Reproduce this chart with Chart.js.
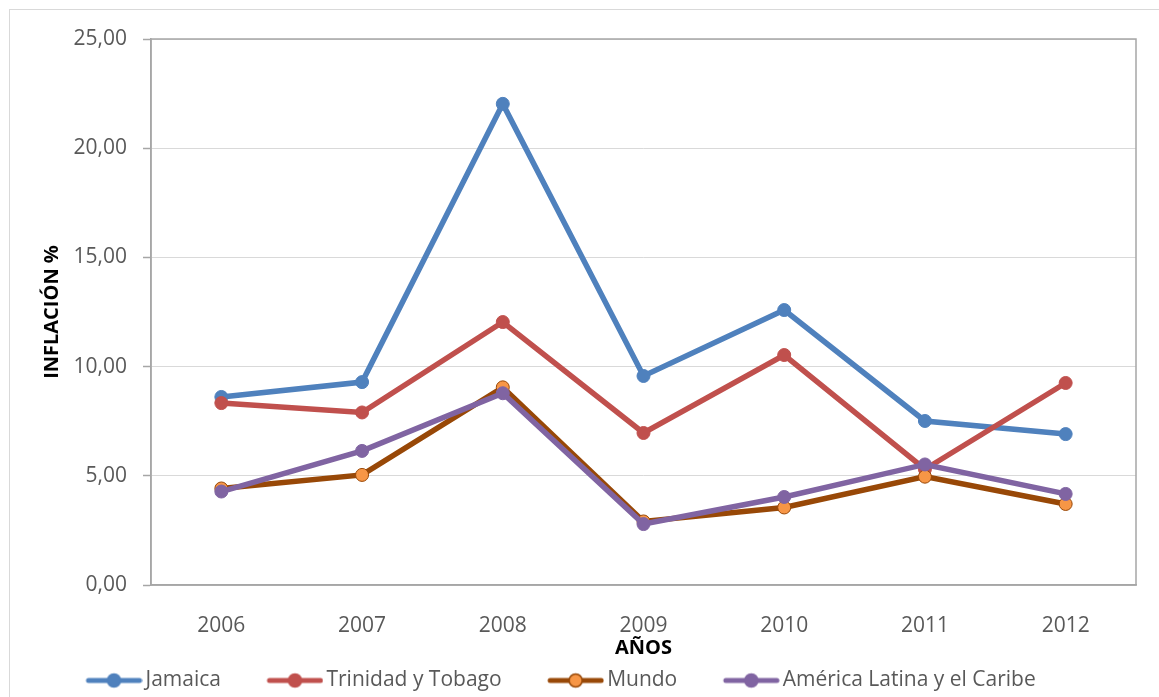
<!DOCTYPE html>
<html lang="es">
<head>
<meta charset="utf-8">
<title>Inflación</title>
<script src="https://cdn.jsdelivr.net/npm/chart.js@4.4.1/dist/chart.umd.min.js"></script>
<style>
  html, body { margin: 0; padding: 0; background: #fff; overflow: hidden; }
  .frame { position: absolute; left: 9px; top: 9px; width: 1300px; height: 800px; border: 1px solid #d9d9d9; }
  #chart { position: absolute; left: 0; top: 0; }
</style>
</head>
<body>
<div class="frame"></div>
<canvas id="chart" width="1159" height="697"></canvas>
<script>
// datos
const years = ['2006', '2007', '2008', '2009', '2010', '2011', '2012'];
const jamaica = [8.61, 9.29, 22.03, 9.57, 12.59, 7.51, 6.91];
const trinidad = [8.33, 7.90, 12.04, 6.96, 10.53, 5.30, 9.25];
const mundo = [4.42, 5.04, 9.05, 2.91, 3.55, 4.96, 3.71];
const latam = [4.28, 6.14, 8.78, 2.79, 4.03, 5.52, 4.17];
const yTicks = [0, 5, 10, 15, 20, 25];

const FONT = "'Open Sans', 'DejaVu Sans', sans-serif";
const GRAY = '#595959';
const AXIS = '#a6a6a6';

// icono de leyenda: línea con marcador
const legendIcon = (line, fill, border) => {
  const c = document.createElement('canvas');
  c.width = 100;
  c.height = 18;
  const g = c.getContext('2d');
  g.strokeStyle = line;
  g.lineWidth = 5;
  g.lineCap = 'round';
  g.beginPath();
  g.moveTo(46, 9);
  g.lineTo(97, 9);
  g.stroke();
  g.beginPath();
  g.arc(71.5, 9, 6.5, 0, Math.PI * 2);
  g.fillStyle = fill;
  g.fill();
  g.lineWidth = 1.5;
  g.strokeStyle = border;
  g.stroke();
  return c;
};

// borde del área de trazado
const plotBorder = {
  id: 'plotBorder',
  beforeDatasetsDraw(chart) {
    const { ctx, chartArea: a } = chart;
    ctx.save();
    ctx.strokeStyle = AXIS;
    ctx.lineWidth = 1.5;
    ctx.strokeRect(a.left, a.top, a.right - a.left, a.bottom - a.top);
    ctx.restore();
  }
};

const series = (label, data, line, fill, border, order) => ({
  label,
  data,
  order,
  borderColor: line,
  backgroundColor: fill,
  borderWidth: 5.5,
  tension: 0,
  pointRadius: 6.5,
  pointBackgroundColor: fill,
  pointBorderColor: border,
  pointBorderWidth: border === line ? 1 : 1.5
});

new Chart(document.getElementById('chart'), {
  type: 'line',
  data: {
    labels: years,
    datasets: [
      series('Jamaica', jamaica, '#4f81bd', '#4f81bd', '#4f81bd', 3),
      series('Trinidad y Tobago', trinidad, '#c0504d', '#c0504d', '#c0504d', 2),
      series('Mundo', mundo, '#984807', '#f79646', '#984807', 1),
      series('América Latina y el Caribe', latam, '#8064a2', '#8064a2', '#8064a2', 0)
    ]
  },
  options: {
    responsive: false,
    animation: false,
    layout: { padding: { left: 40, right: 23, top: 39, bottom: -4 } },
    plugins: {
      tooltip: { enabled: false },
      legend: {
        position: 'bottom',
        align: 'start',
        labels: {
          usePointStyle: true,
          pointStyleWidth: 85,
          padding: 10,
          color: GRAY,
          font: { family: FONT, size: 21 },
          generateLabels: chart => chart.data.datasets.map((ds, i) => ({
            text: ds.label,
            fillStyle: ds.borderColor,
            strokeStyle: ds.borderColor,
            lineWidth: 0,
            fontColor: GRAY,
            pointStyle: legendIcon(ds.borderColor, ds.pointBackgroundColor, ds.pointBorderColor),
            hidden: !chart.isDatasetVisible(i),
            datasetIndex: i
          }))
        }
      }
    },
    scales: {
      x: {
        offset: true,
        grid: { display: false },
        border: { display: true, color: AXIS, width: 1.5 },
        ticks: { color: GRAY, padding: 20, font: { family: FONT, size: 21 } },
        title: {
          display: true,
          text: 'AÑOS',
          color: '#000',
          padding: { top: 0, bottom: 0 },
          font: { family: FONT, size: 20, weight: 'bold' }
        },
        afterFit: s => { s.height = 75; }
      },
      y: {
        min: 0,
        max: 25,
        afterBuildTicks: s => { s.ticks = yTicks.map(v => ({ value: v })); },
        grid: { color: '#d9d9d9', lineWidth: 1, tickLength: 8, tickColor: AXIS, tickWidth: 1.5 },
        border: { display: true, color: AXIS, width: 1.5 },
        ticks: {
          color: GRAY,
          padding: 16,
          font: { family: FONT, size: 21 },
          callback: v => v.toFixed(2).replace('.', ',')
        },
        title: {
          display: true,
          text: 'INFLACIÓN %',
          color: '#000',
          padding: { top: 0, bottom: 0 },
          font: { family: FONT, size: 20, weight: 'bold' }
        },
        afterFit: s => { s.width = 111; }
      }
    }
  },
  plugins: [plotBorder]
});
</script>
</body>
</html>
